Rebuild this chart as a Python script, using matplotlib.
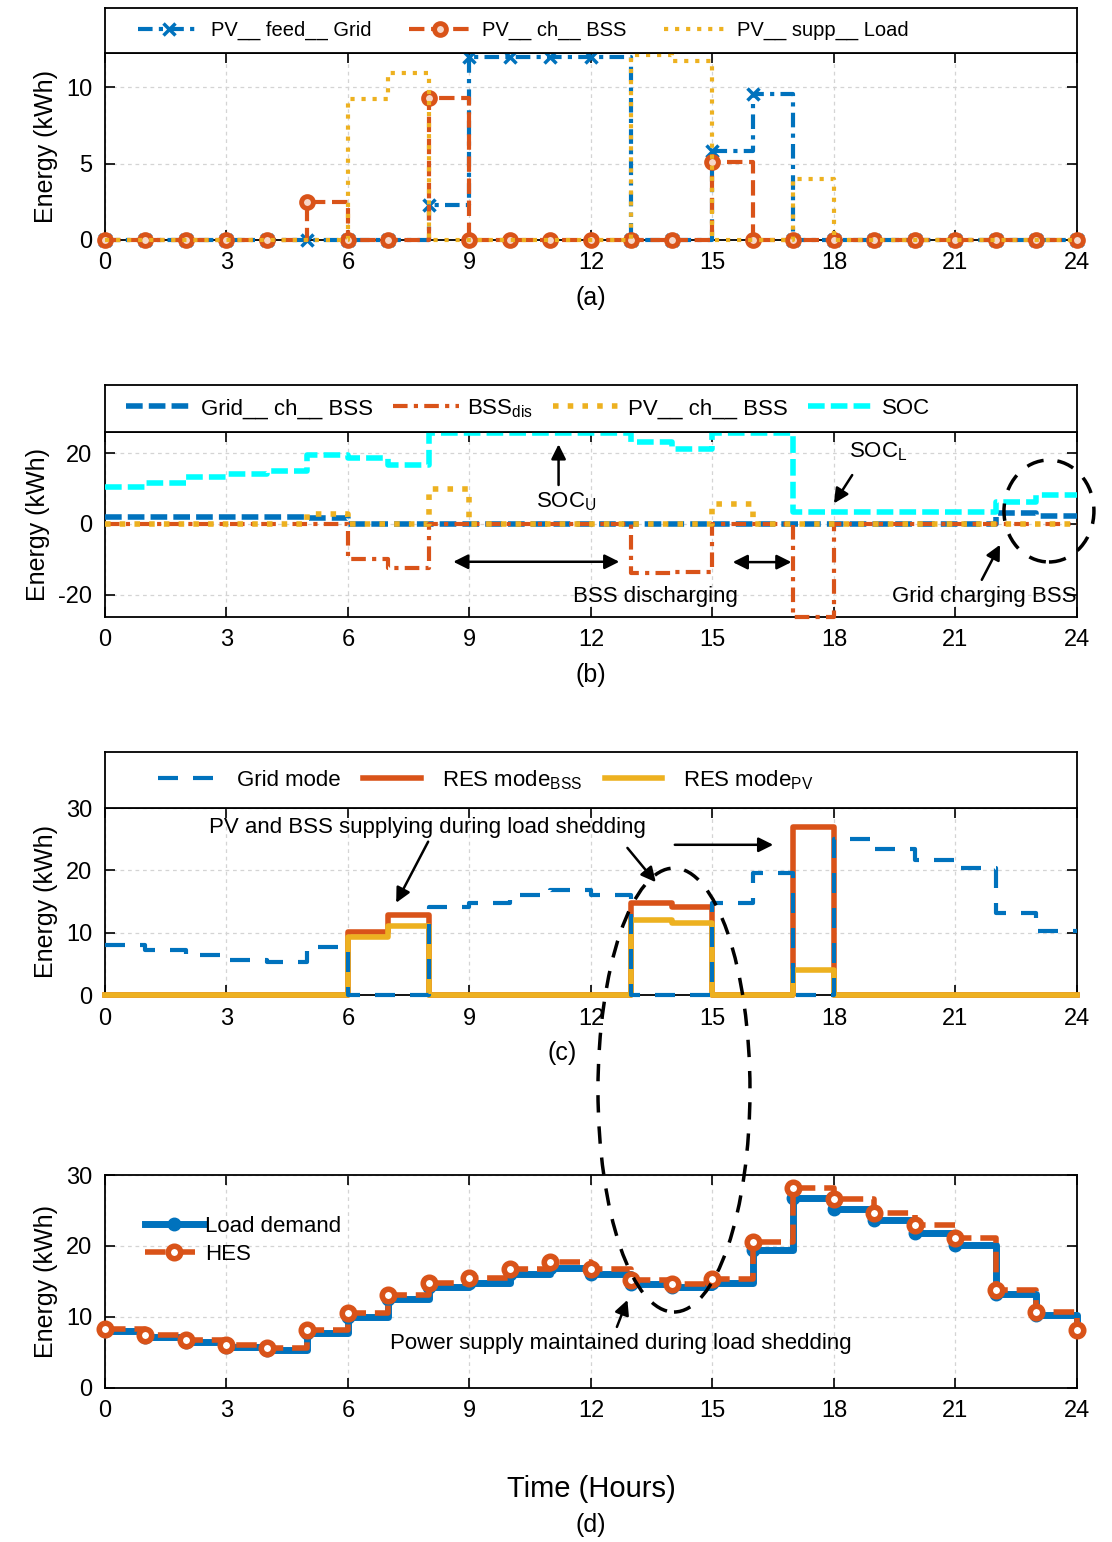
import numpy as np
import matplotlib
matplotlib.use('Agg')
import matplotlib.pyplot as plt
from matplotlib.patches import Ellipse

plt.rcParams['font.family'] = ['Liberation Sans', 'DejaVu Sans']
plt.rcParams['mathtext.fontset'] = 'custom'
plt.rcParams['mathtext.rm'] = 'Liberation Sans'
plt.rcParams['mathtext.it'] = 'Liberation Sans:italic'
plt.rcParams['axes.unicode_minus'] = False

hours = np.arange(25)
xticks = [0, 3, 6, 9, 12, 15, 18, 21, 24]

# (a) PV energy flows
pv_feed_grid = [0, 0, 0, 0, 0, 0, 0, 0, 2.3, 12, 12, 12, 12, 0, 0, 5.85, 9.55, 0, 0, 0, 0, 0, 0, 0, 0]
pv_ch_bss = [0, 0, 0, 0, 0, 2.5, 0, 0, 9.3, 0, 0, 0, 0, 0, 0, 5.1, 0, 0, 0, 0, 0, 0, 0, 0, 0]
pv_supp_load = [0, 0, 0, 0, 0, 0, 9.2, 10.95, 0, 0, 0, 0, 0, 12.1, 11.7, 0, 0, 3.97, 0, 0, 0, 0, 0, 0, 0]

# (b) battery flows and state of charge
grid_ch_bss = [2.0, 2.0, 2.0, 2.0, 2.0, 1.7, 0, 0, 0, 0, 0, 0, 0, 0, 0, 0, 0, 0, 0, 0, 0, 0, 3.0, 2.2, 2.2]
bss_dis = [0, 0, 0, 0, 0, 0, -9.8, -12.6, 0, 0, 0, 0, 0, -13.9, -13.6, 0, 0, -26.3, 0, 0, 0, 0, 0, 0, 0]
pv_ch_bss_b = [0, 0, 0, 0, 0, 2.7, 0, 0, 9.8, 0, 0, 0, 0, 0, 0, 5.6, 0, 0, 0, 0, 0, 0, 0, 0, 0]
soc = [10.4, 11.7, 13.3, 14.0, 15.0, 19.4, 18.6, 16.6, 25.6, 25.6, 25.6, 25.6, 25.6, 23.2, 21.2, 25.6, 25.6,
       3.5, 3.5, 3.5, 3.5, 3.5, 6.3, 8.2, 8.2]

# (c) operating modes
grid_mode = [8.0, 7.3, 6.5, 5.7, 5.3, 7.7, 0, 0, 14.2, 14.8, 16.1, 16.9, 16.0, 0, 0, 14.8, 19.6, 0,
             25.0, 23.5, 21.7, 20.3, 13.2, 10.3, 10.3]
res_bss = [0, 0, 0, 0, 0, 0, 10.1, 12.8, 0, 0, 0, 0, 0, 14.8, 14.2, 0, 0, 26.9, 0, 0, 0, 0, 0, 0, 0]
res_pv = [0, 0, 0, 0, 0, 0, 9.3, 11.0, 0, 0, 0, 0, 0, 12.1, 11.6, 0, 0, 4.0, 0, 0, 0, 0, 0, 0, 0]

# (d) demand vs supply
load_demand = [8.0, 7.2, 6.5, 5.8, 5.3, 7.8, 10.0, 12.5, 14.2, 14.8, 16.1, 16.9, 16.0, 14.7, 14.2, 14.8,
               19.5, 26.7, 25.2, 23.6, 21.9, 20.2, 13.3, 10.3, 8.0]
hes = [8.3, 7.5, 6.8, 6.0, 5.6, 8.1, 10.5, 13.1, 14.8, 15.5, 16.8, 17.7, 16.7, 15.2, 14.6, 15.3,
       20.5, 28.1, 26.6, 24.6, 23.0, 21.1, 13.8, 10.7, 8.2]

BLUE = '#0072BD'
ORANGE = '#D95319'
YELLOW = '#EDB120'
CYAN = '#00FFFF'

fig = plt.figure(figsize=(11.12, 15.42), dpi=100)
L, W = 0.0944, 0.8741


def style_axes(ax, ylim, yticks):
    ax.set_xlim(0, 24)
    ax.set_ylim(*ylim)
    ax.set_xticks(xticks)
    ax.set_yticks(yticks)
    ax.tick_params(direction='in', length=7, width=1.2, top=True, right=True,
                   labelsize=17, pad=9)
    ax.grid(True, color='#d4d4d4', linestyle=(0, (3, 3)), linewidth=0.9)
    ax.set_axisbelow(True)
    for s in ax.spines.values():
        s.set_linewidth(1.3)
    ax.set_ylabel('Energy (kWh)', fontsize=18, labelpad=6)


def legend_box(rect, handles, labels, x0, fs, hl, tp, cs):
    la = fig.add_axes(rect)
    la.set_xticks([])
    la.set_yticks([])
    for s in la.spines.values():
        s.set_linewidth(1.3)
    la.legend(handles, labels, loc='center left', bbox_to_anchor=(x0, 0.5), ncol=len(handles),
              frameon=False, fontsize=fs, handlelength=hl, handletextpad=tp,
              columnspacing=cs, borderpad=0, borderaxespad=0)
    return la


# ---- (a)
ax1 = fig.add_axes([L, 0.8444, W, 0.1213])
l1, = ax1.plot(hours, pv_feed_grid, drawstyle='steps-post', color=BLUE, lw=3,
               dashes=(3.5, 1.5, 1, 1.5), marker='x', ms=8, mew=2.5, clip_on=False, zorder=3)
l2, = ax1.plot(hours, pv_ch_bss, drawstyle='steps-post', color=ORANGE, lw=3, ls='--',
               marker='o', ms=8.5, mfc='#f6d7c8', mew=3.5, clip_on=False, zorder=3)
l3, = ax1.plot(hours, pv_supp_load, drawstyle='steps-post', color=YELLOW, lw=3, ls=':',
               clip_on=False, zorder=3)
style_axes(ax1, (0, 12.25), [0, 5, 10])
ax1.set_xlabel('(a)', fontsize=18, labelpad=8)
legend_box([L, 0.9656, W, 0.0292], [l1, l2, l3],
           ['PV__ feed__ Grid', 'PV__ ch__ BSS', 'PV__ supp__ Load'],
           0.034, 14.5, 3.1, 0.5, 1.9)

# ---- (b)
ax2 = fig.add_axes([L, 0.5999, W, 0.1200])
m1, = ax2.plot(hours, grid_ch_bss, drawstyle='steps-post', color=BLUE, lw=4,
               dashes=(3, 1.1), clip_on=False, zorder=3)
m2, = ax2.plot(hours, bss_dis, drawstyle='steps-post', color=ORANGE, lw=3,
               dashes=(3.5, 1.5, 1, 1.5), clip_on=False, zorder=3)
m3, = ax2.plot(hours, pv_ch_bss_b, drawstyle='steps-post', color=YELLOW, lw=4, ls=':',
               clip_on=False, zorder=3)
m4, = ax2.plot(hours, soc, drawstyle='steps-post', color=CYAN, lw=4,
               dashes=(3, 1.1), clip_on=False, zorder=3)
style_axes(ax2, (-26.3, 26), [-20, 0, 20])
ax2.set_xlabel('(b)', fontsize=18, labelpad=8)
legend_box([L, 0.7198, W, 0.0305], [m1, m2, m3, m4],
           ['Grid__ ch__ BSS', 'BSS$_\\mathrm{dis}$', 'PV__ ch__ BSS', 'SOC'],
           0.022, 16, 3.0, 0.35, 0.9)

arr = dict(arrowstyle='-|>', color='k', lw=1.8, mutation_scale=22, shrinkA=0, shrinkB=0)
dbl = dict(arrowstyle='<|-|>', color='k', lw=1.8, mutation_scale=22, shrinkA=0, shrinkB=0)
ax2.annotate('', xy=(11.2, 22.5), xytext=(11.2, 11.0), arrowprops=arr)
ax2.text(11.4, 6.2, 'SOC$_\\mathrm{U}$', fontsize=16, ha='center', va='center')
ax2.annotate('', xy=(18.0, 5.8), xytext=(18.45, 13.8), arrowprops=arr)
ax2.text(19.1, 20.3, 'SOC$_\\mathrm{L}$', fontsize=16, ha='center', va='center')
ax2.annotate('', xy=(8.6, -10.7), xytext=(12.7, -10.7), arrowprops=dbl)
ax2.annotate('', xy=(15.5, -10.8), xytext=(16.95, -10.8), arrowprops=dbl)
ax2.text(13.6, -20.6, 'BSS discharging', fontsize=16, ha='center', va='center')
ax2.text(21.7, -20.6, 'Grid charging BSS', fontsize=16, ha='center', va='center')
ax2.annotate('', xy=(22.1, -5.9), xytext=(21.65, -15.8), arrowprops=arr)

# ---- (c)
ax3 = fig.add_axes([L, 0.3547, W, 0.1213])
n2, = ax3.plot(hours, res_bss, drawstyle='steps-post', color=ORANGE, lw=4, clip_on=False, zorder=3)
n3, = ax3.plot(hours, res_pv, drawstyle='steps-post', color=YELLOW, lw=4, clip_on=False, zorder=3)
n1, = ax3.plot(hours, grid_mode, drawstyle='steps-post', color=BLUE, lw=3,
               dashes=(4.8, 3.6), clip_on=False, zorder=4)
style_axes(ax3, (0, 30), [0, 10, 20, 30])
ax3.set_xlabel('(c)', fontsize=18, labelpad=8, x=0.47)
legend_box([L, 0.4760, W, 0.0363], [n1, n2, n3],
           ['Grid mode', 'RES mode$_\\mathrm{BSS}$', 'RES mode$_\\mathrm{PV}$'],
           0.055, 16, 2.6, 0.95, 1.0)

ax3.text(7.95, 26.8, 'PV and BSS supplying during load shedding', fontsize=16,
         ha='center', va='center')
ax3.annotate('', xy=(7.19, 14.8), xytext=(7.98, 24.6), arrowprops=arr)
ax3.annotate('', xy=(13.6, 18.1), xytext=(12.9, 23.6), arrowprops=arr)
ax3.annotate('', xy=(16.5, 24.1), xytext=(14.07, 24.1), arrowprops=arr)

# ---- (d)
ax4 = fig.add_axes([L, 0.0999, W, 0.1381])
p1, = ax4.plot(hours, load_demand, drawstyle='steps-post', color=BLUE, lw=5,
               marker='o', ms=9, clip_on=False, zorder=3)
p2, = ax4.plot(hours, hes, drawstyle='steps-post', color=ORANGE, lw=4, ls='--',
               marker='o', ms=9, mfc='white', mew=4, clip_on=False, zorder=4)
style_axes(ax4, (0, 30), [0, 10, 20, 30])
ax4.set_xlabel('Time (Hours)', fontsize=21, labelpad=38)
ax4.legend([p1, p2], ['Load demand', 'HES'], loc='upper left', bbox_to_anchor=(0.03, 0.86),
           frameon=False, fontsize=16, handlelength=2.6, handletextpad=0.1,
           borderpad=0, labelspacing=0.3)
fig.text(0.531, 0.011, '(d)', fontsize=18, ha='center', va='center')
ax4.text(12.74, 6.3, 'Power supply maintained during load shedding', fontsize=16,
         ha='center', va='center')
ax4.annotate('', xy=(12.9, 12.4), xytext=(12.64, 8.6), arrowprops=arr)

# dashed ellipses marking load shedding / grid charging
fig.patches.append(Ellipse((0.6061, 0.2931), 0.1367, 0.2879, transform=fig.transFigure,
                           fill=False, ec='k', lw=2.5, ls=(0, (5, 4)), zorder=10))
fig.patches.append(Ellipse((0.9433, 0.6686), 0.0809, 0.0661, transform=fig.transFigure,
                           fill=False, ec='k', lw=2.5, ls=(0, (5, 4)), zorder=10))

fig.savefig('out.png', dpi=100)
